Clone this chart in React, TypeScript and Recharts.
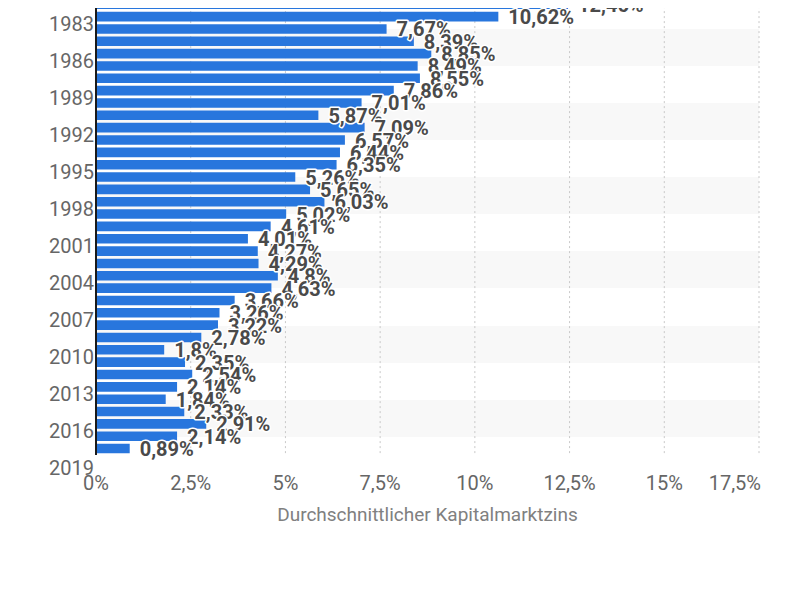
import React from 'react';
import { BarChart, Bar, XAxis, YAxis, CartesianGrid, LabelList, Label } from 'recharts';

const years = [
  1980, 1981, 1982, 1983, 1984, 1985, 1986, 1987, 1988, 1989,
  1990, 1991, 1992, 1993, 1994, 1995, 1996, 1997, 1998, 1999,
  2000, 2001, 2002, 2003, 2004, 2005, 2006, 2007, 2008, 2009,
  2010, 2011, 2012, 2013, 2014, 2015, 2016, 2017,
];
const rates = [
  10.3, 12.46, 10.62, 7.67, 8.39, 8.85, 8.49, 8.55, 7.86, 7.01,
  5.87, 7.09, 6.57, 6.44, 6.35, 5.26, 5.65, 6.03, 5.02, 4.61,
  4.01, 4.27, 4.29, 4.8, 4.63, 3.66, 3.26, 3.22, 2.78, 1.8,
  2.35, 2.54, 2.14, 1.84, 2.33, 2.91, 2.14, 0.89,
];
const yTicks = [1983, 1986, 1989, 1992, 1995, 1998, 2001, 2004, 2007, 2010, 2013, 2016, 2019];
const xTicks = [0, 2.5, 5, 7.5, 10, 12.5, 15, 17.5];
const axisTitle = 'Durchschnittlicher Kapitalmarktzins';

const data = years.map((year, i) => ({ year, value: rates[i] }));
const gridValues = yTicks.filter((t) => t <= years[years.length - 1]);

const FONT = 'Roboto, "Noto Sans", sans-serif';
const fmtPct = (v: number) => `${String(v).replace('.', ',')}%`;

const YTick = (props: any) => {
  const { x, y, payload } = props;
  return (
    <text x={x} y={y} dy={1.8} textAnchor="end" fill="#666666" fontSize={20} fontFamily={FONT}>
      {payload.value}
    </text>
  );
};

const XTick = (props: any) => {
  const { x, y, payload } = props;
  const isLast = payload.value === xTicks[xTicks.length - 1];
  return (
    <text
      x={x}
      y={y}
      dx={isLast ? 2 : 0}
      dy={35}
      textAnchor={isLast ? 'end' : 'middle'}
      fill="#666666"
      fontSize={20}
      fontFamily={FONT}
    >
      {fmtPct(payload.value)}
    </text>
  );
};

const ValueLabel = (props: any) => {
  const { x, y, width, height, value } = props;
  return (
    <text
      x={Number(x) + Number(width) + 10}
      y={Number(y) + Number(height) / 2}
      dy={7.5}
      textAnchor="start"
      fill="#4a4a4a"
      stroke="#ffffff"
      strokeWidth={3}
      strokeLinejoin="round"
      style={{ paintOrder: 'stroke' }}
      fontSize={20}
      fontWeight={700}
      fontFamily={FONT}
    >
      {fmtPct(value)}
    </text>
  );
};

export default function App() {
  return (
    <div style={{ position: 'relative', top: -30, width: 780, height: 590, fontFamily: FONT }}>
      <BarChart
        width={780}
        height={590}
        data={data}
        layout="vertical"
        margin={{ top: 8.1, right: 29, bottom: 42.9, left: 0 }}
      >
        <CartesianGrid
          vertical={false}
          stroke="none"
          horizontalValues={gridValues}
          horizontalFill={['#ffffff', '#f8f8f8']}
        />
        <CartesianGrid horizontal={false} stroke="#c8c8c8" strokeDasharray="2 3" />
        <XAxis
          type="number"
          domain={[0, 17.5]}
          ticks={xTicks}
          interval={0}
          axisLine={false}
          tickLine={false}
          tickSize={0}
          tickMargin={0}
          height={70}
          tick={<XTick />}
        >
          <Label
            value={axisTitle}
            position="insideBottom"
            offset={4}
            fill="#808080"
            fontSize={19}
            fontFamily={FONT}
          />
        </XAxis>
        <YAxis
          type="number"
          dataKey="year"
          domain={[1979.5, 2017.5]}
          ticks={yTicks}
          interval={0}
          width={88}
          axisLine={{ stroke: '#1a1a1a', strokeWidth: 2 }}
          tickLine={false}
          tickSize={0}
          tickMargin={2}
          tick={<YTick />}
        />
        <Bar dataKey="value" fill="#2876dd" barSize={9.6} isAnimationActive={false}>
          <LabelList dataKey="value" content={<ValueLabel />} />
        </Bar>
      </BarChart>
    </div>
  );
}
